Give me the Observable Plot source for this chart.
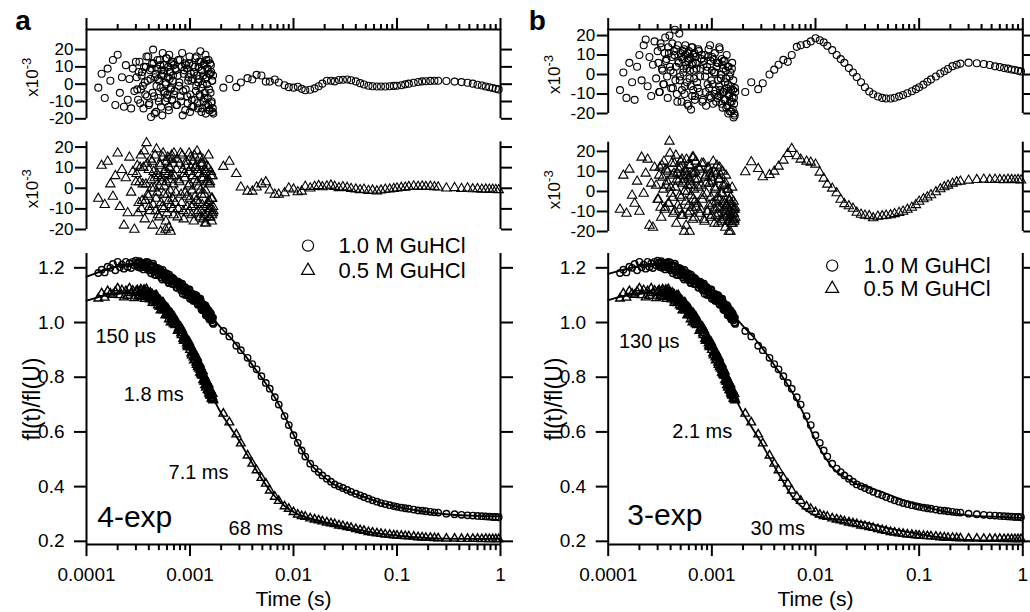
<!DOCTYPE html>
<html><head><meta charset="utf-8">
<script src="https://cdn.jsdelivr.net/npm/d3@7"></script>
<script src="https://cdn.jsdelivr.net/npm/@observablehq/plot@0.6"></script>
<style>
html,body{margin:0;padding:0;background:#fff;}
#fig{position:relative;width:1030px;height:612px;overflow:hidden;background:#fff;}
</style></head><body><div id="fig"></div>
<script>
// ---------- axis / tick definitions ----------
const xDomain = [0.0001, 1];
const xMajor = [0.0001, 0.001, 0.01, 0.1, 1];
const xTickLabels = ["0.0001", "0.001", "0.01", "0.1", "1"];
const minorSteps = [2, 3, 4, 5, 6, 7, 8, 9];
const resTicks = [-20, -10, 0, 10, 20];
const mainTicks = [0.2, 0.4, 0.6, 0.8, 1.0, 1.2];
const mainDomain = [0.188, 1.252];
const seriesLabels = ["1.0 M GuHCl", "0.5 M GuHCl"];
const panelLetters = ["a", "b"];
const modelLabels = ["4-exp", "3-exp"];

// ---------- sampling times ----------
const tDenseUs = [130,140,150,160,170,180,190,200,210,220,230,240,250,260,270,280,290,300,
310,320,330,340,350,360,370,380,390,400,410,420,430,440,450,460,470,480,490,500,
510,520,530,540,550,560,570,580,590,600,610,620,630,640,650,660,670,680,690,700,
720,740,760,780,800,820,840,860,880,900,920,940,960,980,1000,1020,1040,1060,1080,1100,
1120,1140,1160,1180,1200,1220,1240,1260,1280,1300,1320,1340,1360,1380,1400,1420,1440,1460,1480,1500,
1520,1540,1560,1580,1600,1620,1640,1660,1680];
const tDense2Us = [305,315,325,335,345,355,365,375,385,395,405,415,425,435,445,455,465,475,485,495,
505,515,525,535,545,555,565,575,585,595,605,615,625,635,645,655,665,675,685,695,
710,730,750,770,790,810,830,850,870,890,910,930,950,970,990,1010,1030,1050,1070,1090,
1110,1130,1150,1170,1190,1210,1230,1250,1270,1290,1310,1330,1350,1370,1390,1410,1430,1450,1470,1490,
1510,1530,1550,1570,1590,1610,1630,1650,1670];
const tSparse = [0.0021,0.0024,0.0028,0.0031,0.0036,0.004,0.0044,0.0049,0.0054,0.0059,
0.0066,0.0072,0.0082,0.009,0.01,0.011,0.012,0.013,0.0145,0.016,
0.0175,0.019,0.021,0.023,0.025,0.0275,0.03,0.033,0.036,0.04,
0.044,0.048,0.053,0.058,0.064,0.07,0.077,0.085,0.093,0.1,
0.11,0.12,0.13,0.145,0.16,0.175,0.19,0.21,0.23,0.25,
0.3,0.36,0.42,0.48,0.54,0.6,0.66,0.72,0.78,0.84,0.9,0.96];
const tFit = [0.0001,0.00013,0.00016,0.0002,0.00025,0.0003,0.0004,0.0005,0.0006,0.0008,
0.001,0.0012,0.0015,0.002,0.0025,0.003,0.004,0.005,0.006,0.008,
0.01,0.012,0.015,0.02,0.025,0.03,0.04,0.05,0.06,0.08,
0.1,0.15,0.2,0.3,0.5,0.7,1];

// ---------- measured signal fl(t)/fl(U) (same data in both panels) ----------
const data10Dense = [1.181,1.193,1.183,1.204,1.200,1.214,1.191,1.222,1.202,1.212,
1.197,1.222,1.203,1.216,1.199,1.222,1.209,1.226,
1.210,1.219,1.200,1.215,1.208,1.218,1.201,1.222,1.207,1.191,
1.209,1.180,1.209,1.215,1.186,1.195,1.173,1.196,1.188,1.173,
1.195,1.177,1.185,1.157,1.179,1.182,1.164,1.168,1.180,1.155,
1.165,1.147,1.175,1.163,1.152,1.165,1.142,1.152,1.161,1.140,
1.152,1.128,1.142,1.132,1.144,1.117,1.142,1.118,1.127,1.101,
1.125,1.104,1.110,1.118,1.087,1.106,1.089,1.098,1.079,1.097,
1.097,1.081,1.098,1.069,1.078,1.087,1.065,1.087,1.063,1.070,
1.045,1.061,1.064,1.042,1.050,1.027,1.055,1.038,1.044,1.020,
1.036,1.012,1.037,1.018,1.028,1.008,1.018,1.000,0.995];
const data10Dense2 = [1.217,1.203,1.224,1.207,1.216,1.194,1.208,1.216,1.198,1.220,
1.191,1.203,1.207,1.191,1.206,1.175,1.196,1.187,1.200,1.176,
1.184,1.191,1.165,1.181,1.192,1.168,1.178,1.158,1.166,1.179,
1.156,1.170,1.144,1.160,1.162,1.152,1.165,1.141,1.154,1.158,
1.141,1.150,1.127,1.149,1.133,1.122,1.136,1.105,1.127,1.130,
1.112,1.122,1.099,1.111,1.121,1.096,1.101,1.084,1.105,1.098,
1.080,1.101,1.083,1.086,1.065,1.086,1.076,1.063,1.080,1.048,
1.069,1.058,1.045,1.064,1.044,1.063,1.031,1.044,1.046,1.026,
1.045,1.026,1.011,1.030,1.033,1.009,1.019,0.999,1.018];
const data05Dense = [1.088,1.107,1.091,1.115,1.106,1.101,1.113,1.125,1.100,1.118,
1.092,1.115,1.098,1.125,1.108,1.117,1.089,1.111,
1.118,1.099,1.115,1.094,1.105,1.120,1.095,1.122,1.096,1.107,
1.085,1.097,1.104,1.080,1.086,1.099,1.076,1.085,1.063,1.074,
1.082,1.045,1.068,1.051,1.073,1.050,1.058,1.026,1.046,1.028,
1.051,1.027,1.039,1.025,1.001,1.025,1.029,1.002,1.010,1.022,
0.991,1.000,0.970,0.981,0.982,0.961,0.973,0.940,0.951,0.936,
0.944,0.916,0.919,0.929,0.900,0.909,0.880,0.893,0.873,0.891,
0.865,0.874,0.845,0.854,0.854,0.832,0.849,0.827,0.811,0.821,
0.823,0.790,0.806,0.791,0.771,0.790,0.767,0.775,0.753,0.770,
0.750,0.738,0.752,0.735,0.747,0.722,0.729,0.719,0.716];
const data05Dense2 = [1.115,1.095,1.109,1.121,1.098,1.113,1.087,1.103,1.112,1.095,
1.088,1.109,1.092,1.072,1.095,1.090,1.071,1.099,1.075,1.081,
1.058,1.079,1.058,1.065,1.073,1.045,1.053,1.057,1.029,1.055,
1.035,1.042,1.012,1.038,1.028,1.013,1.033,1.009,1.022,0.994,
1.008,0.993,1.002,0.971,0.977,0.984,0.954,0.963,0.933,0.946,
0.946,0.924,0.910,0.923,0.911,0.917,0.887,0.889,0.897,0.862,
0.876,0.876,0.854,0.872,0.837,0.843,0.844,0.817,0.837,0.816,
0.806,0.822,0.807,0.784,0.800,0.784,0.762,0.785,0.771,0.756,
0.774,0.744,0.753,0.733,0.751,0.735,0.723,0.739,0.720];
const data10Sparse = [0.969,0.949,0.915,0.899,0.871,0.848,0.829,0.804,0.779,0.758,
0.727,0.700,0.658,0.625,0.588,0.560,0.532,0.510,0.484,0.466,
0.453,0.441,0.429,0.418,0.408,0.401,0.395,0.388,0.381,0.374,
0.368,0.362,0.356,0.350,0.345,0.340,0.336,0.332,0.329,0.326,
0.323,0.321,0.319,0.316,0.313,0.312,0.310,0.308,0.306,0.305,
0.301,0.299,0.297,0.295,0.294,0.293,0.292,0.291,0.290,0.289,0.289,0.288];
const data05Sparse = [0.667,0.635,0.591,0.558,0.514,0.484,0.460,0.432,0.411,0.386,
0.363,0.348,0.328,0.319,0.307,0.298,0.292,0.290,0.284,0.280,
0.277,0.273,0.269,0.266,0.263,0.258,0.256,0.252,0.249,0.245,
0.241,0.238,0.234,0.232,0.229,0.227,0.225,0.224,0.222,0.221,
0.220,0.219,0.218,0.217,0.215,0.214,0.213,0.213,0.212,0.211,
0.210,0.210,0.209,0.209,0.209,0.209,0.208,0.209,0.208,0.208,0.208,0.208];

// ---------- fitted curves ----------
const fitA10 = [1.168,1.183,1.195,1.205,1.212,1.213,1.203,1.183,1.163,1.130,
1.103,1.077,1.035,0.980,0.942,0.905,0.845,0.795,0.752,0.668,
0.590,0.535,0.478,0.433,0.406,0.392,0.372,0.360,0.349,0.335,
0.327,0.314,0.307,0.299,0.294,0.292,0.291];
const fitA05 = [1.080,1.093,1.102,1.108,1.110,1.108,1.098,1.073,1.040,0.970,
0.905,0.845,0.762,0.668,0.612,0.566,0.485,0.425,0.383,0.333,
0.307,0.293,0.282,0.270,0.262,0.255,0.245,0.237,0.232,0.225,
0.221,0.215,0.212,0.210,0.209,0.209,0.209];
const fitB10 = [1.178,1.190,1.199,1.207,1.212,1.213,1.204,1.186,1.167,1.134,
1.106,1.080,1.040,0.987,0.949,0.911,0.845,0.792,0.743,0.652,
0.569,0.516,0.464,0.430,0.409,0.401,0.385,0.372,0.360,0.343,
0.333,0.315,0.305,0.295,0.290,0.288,0.286];
const fitB05 = [1.082,1.094,1.102,1.108,1.110,1.108,1.098,1.074,1.042,0.973,
0.908,0.848,0.766,0.668,0.609,0.560,0.474,0.411,0.362,0.315,
0.293,0.285,0.282,0.278,0.273,0.268,0.257,0.248,0.242,0.233,
0.226,0.216,0.209,0.205,0.203,0.203,0.203];

// ---------- residuals (x10^-3) ----------
const resA10Dense = [-2,6,-8,9,2,14,-12,17,-5,4,-13,11,-9,3,-14,9,-4,13,
-3,7,-11,5,-1,10,-6,16,2,-12,8,-19,12,20,-7,4,-16,9,3,-10,
14,-2,8,-18,6,11,-5,1,15,-8,4,-13,17,7,-3,12,-9,2,13,-6,
9,-12,5,-1,14,-10,18,-4,8,-15,11,-7,2,12,-16,6,-9,3,-13,7,
10,-4,16,-11,1,13,-6,19,-2,8,-14,5,11,-8,3,-17,14,0,9,-12,
6,-15,12,-5,7,-10,2,-14,-17];
const resA10Dense2 = [4,-9,13,-3,7,-14,1,10,-7,16,-11,3,9,-5,12,-17,6,-1,14,-8,
2,11,-13,5,18,-4,8,-10,0,15,-6,10,-15,3,7,-2,13,-9,5,11,
-4,8,-12,14,1,-7,10,-18,6,12,-3,9,-11,4,16,-6,2,-13,11,7,
-9,15,-1,5,-14,10,3,-7,13,-16,8,0,-10,12,-5,17,-12,4,9,-8,
14,-3,-15,6,11,-11,2,-16,5];
const resA05Dense = [-5,11,-8,13,2,-4,6,17,-9,9,-18,5,-12,15,-2,8,-20,3,
11,-7,10,-10,2,18,-6,22,-3,9,-11,4,13,-8,0,16,-5,7,-13,1,
12,-21,5,-9,17,-3,8,-20,3,-12,15,-6,10,-1,-21,6,14,-10,2,17,
-7,9,-14,4,12,-3,16,-11,7,-2,13,-9,1,17,-5,10,-13,6,-8,16,
-4,11,-12,3,9,-7,15,-1,-11,5,12,-15,7,-3,-17,8,-9,4,-12,10,
-6,-14,3,-10,6,-16,-5,-12,-11];
const resA05Dense2 = [7,-12,3,16,-6,10,-15,2,12,-4,-9,14,0,-18,8,5,-11,19,-2,6,
-14,11,-7,3,15,-10,1,9,-16,13,-3,7,-19,10,4,-8,16,-5,12,-13,
6,-2,14,-10,3,17,-7,9,-15,5,11,-4,-12,8,2,15,-9,-1,13,-16,
4,10,-6,18,-11,1,7,-14,12,-3,-8,14,5,-13,9,-1,-17,11,3,-7,
16,-10,2,-14,8,-5,-13,6,-9];
const resB10Dense = [-8,1,-12,6,-4,-13,4,10,-3,15,18,-6,9,-11,5,17,-2,12,
-9,16,3,-5,11,7,-1,14,20,2,9,-7,12,23,4,-10,15,6,-3,11,
-14,8,1,13,-6,10,3,-15,7,12,-2,9,-18,5,14,-8,2,11,-11,6,
-4,13,-9,3,10,-13,7,-1,-16,4,9,-7,15,-12,2,-5,8,-10,1,-14,
6,-3,-11,14,-8,-2,-15,5,-9,7,-13,-4,2,-17,-7,4,-20,-10,-1,-14,
-6,-19,3,-12,-8,-22,-15,-21,-9];
const resB10Dense2 = [6,-9,14,2,-5,19,8,-12,11,4,-7,16,1,10,-3,13,-14,7,21,-1,
9,-8,12,3,-10,15,5,-4,11,-16,8,2,-6,14,-11,6,10,-2,-13,9,
3,-7,12,-1,8,-14,5,10,-9,2,-5,13,-11,7,-3,9,-15,1,11,-8,
4,-12,6,-6,13,-10,0,8,-17,3,-9,7,-13,-2,10,-16,-5,4,-11,-19,
1,-8,-14,6,-18,-3,-12,-20,-7];
const resB05Dense = [-9,8,-11,11,-2,-6,5,-10,17,-1,9,16,-17,4,-18,12,3,-4,
8,-8,13,1,-9,11,5,-6,25,2,14,-3,9,-10,18,6,-7,11,-2,15,
-12,4,8,-20,10,-5,16,0,-11,7,-20,13,3,-8,17,-4,9,-13,6,15,
-6,2,11,-9,14,-2,-14,7,4,-10,12,-7,9,-3,-12,5,10,-16,1,-5,
13,-8,-11,6,-4,8,-15,-1,3,-9,-6,-13,4,-10,-7,1,-15,-20,-5,-12,
-3,-16,-8,-14,-11,-5,-15,-9,-13];
const resB05Dense2 = [-4,12,-13,7,15,-8,3,10,-6,19,-1,8,-11,14,2,-16,9,5,-9,12,
-3,16,-12,6,0,11,-17,8,3,-7,13,-10,5,-2,9,-14,17,1,-5,10,
-8,6,12,-11,3,-4,14,-15,8,-1,-10,11,4,-13,7,-6,15,-9,2,-12,
9,-3,-16,6,12,-8,-1,-14,10,-5,-11,3,-18,8,-7,-12,1,-15,-4,-10,
-20,-6,-13,2,-16,-9,-11,-14,-8];
const resA10Sparse = [-2,3,-1.7,1,3.5,2.7,5.4,5,1.5,1.5,2.7,1,-0.6,-1.7,-2,-1.5,-2.7,-3.5,-3.2,-2.4,
-1.2,0.3,2,2,1.6,2.4,2.6,2.7,2.3,1.6,0.6,-0.2,-0.9,-1.2,-1.3,-1.3,-1.3,-1.2,-1,-0.9,
-0.6,-0.1,0.3,0.8,1.3,1.6,1.7,1.9,2,2,1.8,1.5,1.2,0.8,0.3,-0.3,-0.8,-1.3,-1.8,-2.2,-2.6,-3];
const resA05Sparse = [10.5,13,7,0.5,-1.5,-1.5,0.5,2,3,-1,-3,-3,-2.3,0,-0.5,-1.8,-1.5,0.8,0,0.8,
1.2,0.6,1,1.4,0.8,0.2,0.6,0.3,-0.2,-0.5,-0.8,-0.6,-1.2,-1,-1.4,-1,-0.6,-0.5,-0.2,0,
0.3,0.4,0.7,1,0.8,1,0.7,0.9,0.6,0.5,0,0.2,-0.2,0,-0.4,-0.3,-0.6,-0.5,-0.6,-0.6,-0.7,-0.8];
const resB10Sparse = [-9,-4,-7.5,-4.5,0,2.5,5,7.5,6.5,10,14.2,15,15.6,17,18.6,17.6,16.5,14.7,12.5,10,
7.9,6,3.3,1,-1.3,-4,-6.5,-8.7,-10.1,-11.3,-12,-12.3,-12.3,-11.9,-11.2,-10.5,-9.6,-8.6,-7.5,-6.5,
-5.2,-3.7,-2.5,-1,0.5,1.7,2.8,4.3,5,5.6,6.1,5.8,5.4,4.9,4.2,3.8,3.3,3,2.6,2.3,1.9,1.6];
const resB05Sparse = [9.7,14.7,11.3,7.2,8.3,10,12.5,15.5,18.8,21.3,17.7,16,15,14.5,13.5,9.5,6.5,3.5,1.5,-0.8,
-4,-6.2,-7.3,-8.5,-10.5,-11.5,-12,-12.2,-13.3,-12.5,-12.3,-12,-11.8,-11.2,-10.6,-10,-9,-8,-6.7,-5,
-3.8,-2.9,-1.8,-0.3,1.2,2.2,3,4,4.7,5,5.5,5.8,6,5.8,6,5.8,5.7,6,5.8,5.7,5.8,5.6];

// ---------- time-constant annotations ----------
const annotLabelsA = ["150 \u00b5s", "1.8 ms", "7.1 ms", "68 ms"];
const annotTA = [0.000122, 0.000229, 0.00062, 0.00236];
const annotVA = [0.947, 0.738, 0.453, 0.245];
const annotLabelsB = ["130 \u00b5s", "2.1 ms", "30 ms"];
const annotTB = [0.000127, 0.000415, 0.00236];
const annotVB = [0.932, 0.603, 0.245];
const modelT = [0.000127, 0.000153];
const modelV = [0.286, 0.293];

// ---------- tables ----------
const xMinor = xMajor.slice(0, -1).flatMap(d => minorSteps.map(k => +(d * k).toPrecision(3)));
const rows = (ts, vs) => ts.map((t, i) => ({t, v: vs[i]}));
const usRows = (us, vs) => us.map((u, i) => ({t: u * 1e-6, v: vs[i]}));
const seriesRows = (d1, d2, sp) => usRows(tDenseUs, d1).concat(usRows(tDense2Us, d2), rows(tSparse, sp));

const FONT = '"Liberation Sans", Arial, Helvetica, sans-serif';
const baseStyle = {fontFamily: FONT, overflow: "visible", background: "none", color: "black"};
const fig = document.getElementById("fig");
function place(svg, left, top) {
  svg.style.position = "absolute";
  svg.style.left = left + "px";
  svg.style.top = top + "px";
  fig.appendChild(svg);
}

const panels = [
  {letter: panelLetters[0], model: modelLabels[0], left: 0, width: 520, ml: 86, mr: 20, letterDx: -63.5,
   res10: seriesRows(resA10Dense, resA10Dense2, resA10Sparse), res05: seriesRows(resA05Dense, resA05Dense2, resA05Sparse),
   fit10: rows(tFit, fitA10), fit05: rows(tFit, fitA05),
   annot: annotLabelsA.map((label, i) => ({label, t: annotTA[i], v: annotVA[i]})),
   modelT: modelT[0], modelV: modelV[0],
   top: {y0: 0, h: 125, mt: 29, mb: 6.7, dom: [-20, 31.6]},
   mid: {y0: 125, h: 110, mt: 16.4, mb: 6, dom: [-20, 22.5]},
   legend: {cx: 221.5, tx: 252, dy1: -8, dy2: 17}},
  {letter: panelLetters[1], model: modelLabels[1], left: 520, width: 510, ml: 87.7, mr: 7.7, letterDx: -71,
   res10: seriesRows(resB10Dense, resB10Dense2, resB10Sparse), res05: seriesRows(resB05Dense, resB05Dense2, resB05Sparse),
   fit10: rows(tFit, fitB10), fit05: rows(tFit, fitB05),
   annot: annotLabelsB.map((label, i) => ({label, t: annotTB[i], v: annotVB[i]})),
   modelT: modelT[1], modelV: modelV[1],
   top: {y0: 0, h: 125, mt: 29, mb: 12, dom: [-20, 23.1]},
   mid: {y0: 125, h: 110, mt: 16.7, mb: 4, dom: [-20, 24.6]},
   legend: {cx: 224, tx: 255.3, dy1: 12, dy2: 35}}
];

const data10 = seriesRows(data10Dense, data10Dense2, data10Sparse);
const data05 = seriesRows(data05Dense, data05Dense2, data05Sparse);

function residualPlot(p, box, data, symbol, isTop) {
  const marks = [
    Plot.ruleX(xDomain, {strokeWidth: 2}),
    Plot.axisY({anchor: "left", ticks: resTicks, tickSize: 11, tickPadding: 2, tickFormat: d => String(d),
      strokeWidth: 2, fontSize: 17, label: null}),
    Plot.axisY({anchor: "right", ticks: resTicks, tickSize: 11, tickFormat: () => "", strokeWidth: 2, label: null}),
    Plot.dot(data, {x: "t", y: "v", symbol, r: 3.5, stroke: "black", fill: "none", strokeWidth: 1.1}),
    Plot.text(["x10"], {frameAnchor: "left", dx: -54, dy: 3, rotate: -90, textAnchor: "middle", lineAnchor: "middle",
      fontSize: 17, text: d => d})
  ];
  if (isTop) {
    marks.push(
      Plot.ruleY([box.dom[1]], {strokeWidth: 2}),
      Plot.axisX({anchor: "top", ticks: xMajor, tickSize: 12, tickFormat: () => "", strokeWidth: 2, label: null}),
      Plot.axisX({anchor: "top", ticks: xMinor, tickSize: 6, tickFormat: () => "", strokeWidth: 2, label: null}),
      Plot.text([p.letter], {frameAnchor: "top-left", dx: p.letterDx, dy: -8, textAnchor: "middle", lineAnchor: "middle",
        fontSize: 28, fontWeight: "bold", text: d => d})
    );
  }
  return Plot.plot({
    width: p.width, height: box.h,
    marginLeft: p.ml, marginRight: p.mr, marginTop: box.mt, marginBottom: box.mb,
    x: {type: "log", domain: xDomain, label: null, ...(isTop ? {} : {axis: null})},
    y: {domain: box.dom, label: null},
    style: baseStyle,
    marks
  });
}

function mainPlot(p) {
  const lg = p.legend;
  return Plot.plot({
    width: p.width, height: 412,
    marginLeft: p.ml, marginRight: p.mr, marginTop: 53.1, marginBottom: 67.9,
    x: {type: "log", domain: xDomain, label: null},
    y: {domain: mainDomain, label: null},
    style: baseStyle,
    marks: [
      Plot.ruleX(xDomain, {strokeWidth: 2}),
      Plot.ruleY([mainDomain[0]], {strokeWidth: 2}),
      Plot.axisX({anchor: "bottom", ticks: xMajor, tickSize: 12, tickPadding: 11,
        tickFormat: d => xTickLabels[xMajor.indexOf(d)], fontSize: 19, strokeWidth: 2, label: null}),
      Plot.axisX({anchor: "bottom", ticks: xMinor, tickSize: 6, tickFormat: () => "", strokeWidth: 2, label: null}),
      Plot.axisY({anchor: "left", ticks: mainTicks, tickSize: 12, tickPadding: 10,
        tickFormat: d => d.toFixed(1), fontSize: 19, strokeWidth: 2, label: null}),
      Plot.axisY({anchor: "right", ticks: mainTicks, tickSize: 12, tickFormat: () => "", strokeWidth: 2, label: null}),
      Plot.dot(data10, {x: "t", y: "v", r: 3.2, stroke: "black", fill: "none", strokeWidth: 1.4}),
      Plot.dot(data05, {x: "t", y: "v", symbol: "triangle", r: 3.2, stroke: "black", fill: "none", strokeWidth: 1.4}),
      Plot.line(p.fit10, {x: "t", y: "v", stroke: "black", strokeWidth: 1.8, curve: "monotone-x"}),
      Plot.line(p.fit05, {x: "t", y: "v", stroke: "black", strokeWidth: 1.8, curve: "monotone-x"}),
      Plot.text(p.annot, {x: "t", y: "v", text: "label", textAnchor: "start", lineAnchor: "middle", fontSize: 20}),
      Plot.text([p.model], {x: () => p.modelT, y: () => p.modelV, text: d => d, textAnchor: "start", lineAnchor: "middle", fontSize: 30}),
      Plot.dot([seriesLabels[0]], {frameAnchor: "top-left", dx: lg.cx, dy: lg.dy1, r: 5.6, stroke: "black", fill: "none", strokeWidth: 1.2}),
      Plot.dot([seriesLabels[1]], {frameAnchor: "top-left", dx: lg.cx, dy: lg.dy2, symbol: "triangle", r: 4.8, stroke: "black", fill: "none", strokeWidth: 1.2}),
      Plot.text([seriesLabels[0]], {frameAnchor: "top-left", dx: lg.tx, dy: lg.dy1 + 0.5, textAnchor: "start", lineAnchor: "middle", fontSize: 22, text: d => d}),
      Plot.text([seriesLabels[1]], {frameAnchor: "top-left", dx: lg.tx, dy: lg.dy2 + 0.5, textAnchor: "start", lineAnchor: "middle", fontSize: 22, text: d => d}),
      Plot.text(["fl(t)/fl(U)"], {frameAnchor: "left", dx: -54, rotate: -90, textAnchor: "middle", lineAnchor: "middle", fontSize: 23, text: d => d}),
      Plot.text(["Time (s)"], {frameAnchor: "bottom", dy: 55, textAnchor: "middle", lineAnchor: "middle", fontSize: 21, text: d => d})
    ]
  });
}

for (const p of panels) {
  place(residualPlot(p, p.top, p.res10, "circle", true), p.left, p.top.y0);
  place(residualPlot(p, p.mid, p.res05, "triangle", false), p.left, p.mid.y0);
  place(mainPlot(p), p.left, 200);
}

// superscript exponent on the residual axis labels
d3.select(fig).selectAll("text")
  .filter(function() { return this.textContent === "x10"; })
  .append("tspan").attr("baseline-shift", "super").attr("font-size", "13px").text("-3");
</script></body></html>
